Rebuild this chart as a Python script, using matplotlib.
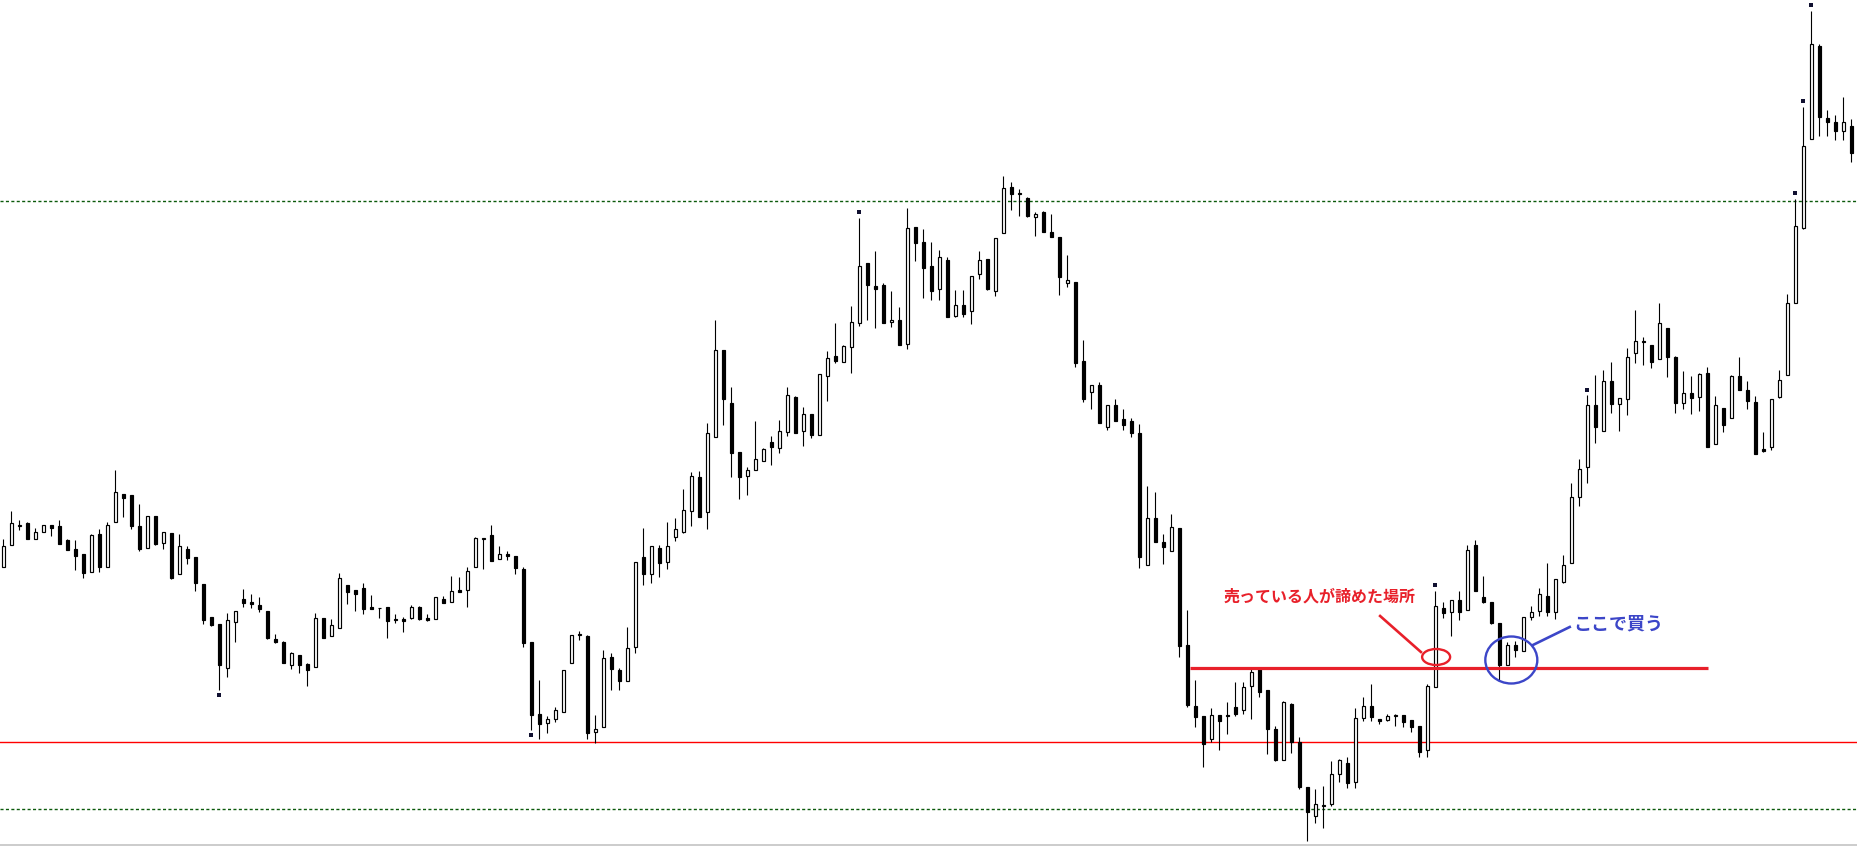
import matplotlib
matplotlib.use("Agg")
import matplotlib.pyplot as plt
from matplotlib.patches import Ellipse
import numpy as np

plt.rcParams['font.family'] = ['Noto Sans CJK JP', 'DejaVu Sans']
plt.rcParams['lines.scale_dashes'] = False

# OHLC per bar (price units)
opens = [289.3, 310.7, 330.3, 333, 316.7, 323.7, 330.7, 329.7, 316, 306.7,
         301.7, 283.7, 322, 288.7, 333.7, 361.7, 360.7, 329.7, 307.7, 339.7,
         312.7, 322.7, 281.7, 306.7, 298.7, 271.7, 238.7, 231.7, 187.7, 233.7,
         257, 254, 250.7, 244.7, 216.7, 214, 190.7, 200.7, 192, 188.7,
         237.7, 219.7, 227.7, 270.7, 265.7, 267.7, 248.7, 248.2, 248.7, 236.9,
         237, 237.7, 248.7, 238, 236.7, 257, 253.7, 265.7, 265.7, 288.7,
         317.3, 320.7, 296.7, 301.7, 299.7, 287, 213.7, 141.7, 132.7, 137.3,
         143.7, 192.7, 222, 219.7, 124.3, 128.7, 198.7, 186, 174.7, 208.7,
         298.7, 282.3, 307.7, 293.7, 318.7, 323.7, 345.3, 378.7, 343.7, 418.7,
         505.7, 452.7, 403.7, 379.7, 385.7, 394.7, 413.7, 407.7, 423.7, 458.7,
         424.7, 441.7, 420.7, 479.7, 499.7, 493.7, 508.7, 532.7, 592.7, 570,
         570.7, 533.7, 535.7, 511.7, 628.7, 613.7, 589.7, 566.7, 596, 539.7,
         550.7, 544.7, 581.7, 596.7, 564.7, 622.7, 668.7, 662.7, 657.7, 638.7,
         643.7, 623.7, 618.7, 572.7, 573.7, 494.7, 463.7, 470.7, 428.7, 450.7,
         436.7, 434.7, 422.7, 290.7, 337.7, 313.7, 304.7, 327.7, 210.7, 150,
         139.7, 117.3, 140.7, 140.7, 148.7, 145.7, 169.7, 186.7, 165.7, 127,
         95.7, 152, 113.7, 69.3, 39.7, 50.3, 51.7, 81.7, 92.7, 73.7,
         137.7, 149.7, 136.7, 136, 140, 140.7, 136, 130, 105.7, 168.7,
         248, 243.7, 256, 245.7, 310.7, 258.7, 254, 232.7, 190.7, 210.7,
         204.7, 238.7, 245.3, 259.7, 243.7, 273.7, 292.7, 358.7, 389.3, 450.7,
         424.7, 475, 451.7, 456.7, 502.7, 515, 510.7, 496.7, 527.7, 498.7,
         452.7, 462.7, 458.7, 482.7, 411.7, 447.7, 437.7, 479.7, 465.7, 453.7,
         407, 408.7, 458.7, 480.7, 552.7, 628.3, 716.7, 809.7, 737.7, 733.7,
         724.7, 729.7]
highs = [317, 345, 336, 334, 327.7, 330.7, 330.7, 336, 317, 316,
         301.7, 322, 327, 334, 386, 361.7, 360.7, 352, 339.7, 339.7,
         323.7, 322.7, 322, 310, 298.7, 271.7, 238.7, 231.7, 242.7, 244.7,
         267, 262, 259, 244.7, 221.7, 214.7, 203.7, 200.7, 192.7, 243,
         237.7, 237, 282.7, 270.7, 265.7, 272.7, 260.7, 248.3, 248.7, 241.7,
         238.7, 250.7, 250.3, 242, 259.3, 259.7, 280, 279, 288.7, 318.7,
         317.7, 331, 309.7, 304.7, 299.7, 288.7, 213.7, 176, 140, 149,
         185.7, 220.7, 225, 220.7, 141, 206, 202.7, 187.7, 229, 293.7,
         328, 309.7, 310.7, 334, 337.7, 367, 384, 385, 432.7, 536,
         505.7, 468.7, 403.7, 388.7, 435, 407.7, 420, 436, 469, 459.7,
         449, 441.7, 481.7, 505, 533, 510.7, 550, 637.7, 592.7, 605,
         572.7, 565, 549, 647.7, 628.7, 627, 614, 606, 598.7, 566,
         566, 579.7, 605, 596.7, 617.7, 680, 673.7, 666.7, 659, 643.7,
         644.7, 642, 618.7, 601, 573.7, 516, 470.7, 474, 450.7, 457,
         447.3, 438, 431.7, 370, 364.3, 321.7, 342, 327.7, 246, 176,
         139.7, 148, 140.7, 154, 174, 174, 186.7, 186.7, 165.7, 130,
         155.3, 153, 119, 69.3, 67, 70, 95, 96.7, 99, 147.7,
         159, 172, 137.3, 142, 142, 140.7, 136, 130, 172, 265,
         253.7, 256, 265, 310.7, 315.7, 279.7, 254, 232.7, 213.7, 214.7,
         238.7, 249.7, 267.7, 292.7, 276.7, 300.7, 372.7, 396.7, 460.7, 480.7,
         485.7, 494, 457.7, 507.7, 546, 519, 510.7, 553, 527.7, 499.7,
         485, 480, 482.7, 489, 460, 447.7, 480.7, 499, 475, 460,
         424, 456.7, 486, 562, 656.7, 749, 845, 811.7, 745.7, 740.7,
         758.7, 736.7]
lows = [288.7, 310.7, 326, 317.3, 316.7, 323.7, 320.3, 312.3, 306.3, 286.3,
        278.3, 283.7, 284.3, 288.7, 333.7, 339.3, 327, 305.3, 307.7, 311,
        307, 277.3, 281.7, 292.3, 265.3, 232.3, 230.3, 166, 179.3, 214.3,
        249.3, 248.3, 244.3, 216.7, 213.3, 193.3, 187.3, 183.3, 170.3, 188.7,
        218.3, 219.7, 227.7, 252.3, 245.3, 242.3, 247.3, 238.3, 218.3, 233.3,
        224.3, 236.7, 236.3, 235.3, 236.7, 253.3, 253.7, 264.3, 249.3, 288.7,
        287.3, 295.3, 296.7, 296.3, 282.3, 209.3, 126, 117.3, 123.3, 134.3,
        143.7, 192.7, 216, 117.3, 113.3, 128.7, 166.3, 166.3, 174.7, 203.3,
        271.3, 273.3, 279.3, 286.7, 315.3, 322.7, 330.3, 339.3, 326.7, 418.7,
        431.3, 378.7, 357.3, 360.7, 385.7, 394.7, 391.3, 402.7, 419.7, 422.7,
        409.7, 417.7, 420.7, 454.7, 492.7, 493.7, 482.7, 530.3, 536.3, 528.3,
        532.7, 528.7, 511.3, 507.3, 595.3, 558.3, 556.3, 555.7, 538.7, 538.7,
        539.3, 531.7, 577.3, 566.3, 560.3, 622.7, 646.3, 639.7, 638.7, 620.3,
        623.7, 618.7, 561.3, 569.3, 488.7, 453.7, 447.3, 432.7, 425.7, 435.3,
        425.7, 418.7, 287.7, 290.7, 313.7, 292.3, 304.7, 198.7, 149.3, 129.3,
        89.3, 114, 106.3, 122.3, 140, 141.7, 137.3, 159.3, 101.7, 95.3,
        95.7, 103.3, 66.7, 15.3, 32.7, 27.7, 49.7, 74.3, 68.3, 68.3,
        135.3, 135.3, 131.7, 134.7, 130.3, 129.3, 124.3, 98.7, 98.7, 168.7,
        237.7, 220.3, 236.3, 245.7, 264.7, 253.3, 231.7, 176, 190.7, 199.3,
        204.7, 235.7, 239.7, 239.7, 237.3, 272.7, 292.7, 350.3, 373.3, 412.7,
        424.7, 442.7, 425.3, 441.3, 493.3, 491.3, 488.3, 496.7, 479.3, 443.3,
        447.3, 442.3, 445.3, 409.3, 411.7, 424.3, 437.7, 465.7, 447.3, 401.7,
        403.7, 406.3, 457.7, 480.7, 552.7, 627.3, 716.7, 720.3, 720.3, 716.3,
        716.3, 694.3]
closes = [309.7, 332.7, 330.7, 317.3, 323.7, 330.7, 328.3, 312.3, 306.3, 300.3,
          283.3, 320.7, 288.7, 330.7, 363.7, 358.3, 330.3, 307, 339.7, 312.3,
          323.7, 278.3, 309.7, 298.3, 272.7, 236.3, 231.3, 191.3, 235.7, 244.7,
          253.3, 252.3, 247.3, 218.3, 214.3, 193.3, 202.7, 191.3, 186.3, 237.7,
          218.3, 230.7, 277.7, 264.3, 262.3, 247.3, 247.3, 247.8, 235.3, 236.5,
          235.3, 248.7, 237.3, 236, 258.7, 253.3, 264.7, 264.3, 284.7, 317.7,
          317.7, 295.3, 301.7, 299.7, 288.3, 213.3, 141.3, 132.3, 136.7, 145.7,
          185.7, 220.7, 220.7, 123.3, 126.7, 197.7, 187.3, 175.3, 207.7, 293.7,
          282.3, 309.7, 292.7, 309.7, 326.7, 345.7, 379.7, 339.3, 422.7, 505.7,
          456.7, 403.3, 379.3, 385.7, 396.7, 406.7, 408.7, 424.7, 460.7, 423.3,
          441.7, 420.7, 481.7, 497.7, 494.7, 509.7, 533.7, 589.7, 571.3, 566.7,
          533.3, 535.7, 511.3, 627.7, 612.7, 587.7, 564.7, 598.7, 538.7, 550.7,
          541.7, 579.7, 595.7, 567, 617.7, 667.7, 661.7, 661.7, 640.3, 641.7,
          623.7, 618.7, 578.7, 575.7, 492.7, 457.3, 470.7, 432.7, 450.7, 435.3,
          430.7, 422.7, 299.3, 337.7, 313.7, 309.3, 329.3, 210.3, 151, 139.3,
          111.7, 140.7, 135.3, 139.7, 142, 169.3, 183.7, 164.3, 126.7, 96,
          153.7, 114, 69.3, 43.7, 51.7, 50.7, 81.7, 95.7, 73.3, 137.7,
          149.7, 139.3, 134.7, 139.7, 140.7, 134.3, 129.3, 103.7, 169.7, 249.7,
          243.3, 256, 243.7, 305.7, 264.7, 254.3, 233, 190.7, 210.7, 205.7,
          238.7, 243.7, 261.7, 243.7, 276.7, 290.7, 358.7, 386.7, 450.7, 428.7,
          474.7, 451.7, 457.7, 498.7, 514.7, 513.7, 493.7, 532.7, 498.7, 452.7,
          462.7, 457.7, 481.7, 409.3, 450.7, 430.7, 479.7, 465.7, 454.7, 402.3,
          405.3, 456.7, 475.7, 552.7, 629.7, 709.7, 811.7, 739.3, 733.7, 724.7,
          733.7, 703.3]

# fractal dots
dot_bars = [27, 66, 107, 179, 198, 224, 225, 226]
dot_prices = [160.7, 120.7, 643.7, 270.7, 465.7, 662.7, 754.7, 850.7]

# horizontal levels
level_top = 655        # green dotted
level_support = 114    # thin red
level_bottom = 47      # green dotted
level_break = 188      # thick red segment
break_start, break_end = 148.3, 213.1

o = np.array(opens); h = np.array(highs); l = np.array(lows); c = np.array(closes)
x = np.arange(len(o))
up = c >= o

fig = plt.figure(figsize=(18.57, 8.56), dpi=100)
ax = fig.add_axes([0, 0, 1, 1])
ax.set_xlim(-0.4125, 231.71)
ax.set_ylim(0, 856)
ax.axis('off')

dot = (0, (2.2, 1.7))
ax.axhline(level_top, color='#0b5a0b', lw=1, ls=dot, zorder=1)
ax.axhline(level_bottom, color='#0b5a0b', lw=1, ls=dot, zorder=1)
ax.axhline(level_support, color='#ff0000', lw=1, zorder=1)
ax.axhline(11, color='#c4c4c4', lw=1.2, zorder=1)

ax.vlines(x, l, h, color='black', lw=0.8, zorder=2)
body = np.maximum(np.abs(c - o), 0.6)
bottom = np.minimum(o, c)
ax.bar(x[up], body[up], bottom=bottom[up], width=0.45, color='white',
       edgecolor='black', linewidth=0.85, zorder=3)
ax.bar(x[~up], body[~up], bottom=bottom[~up], width=0.45, color='black',
       edgecolor='black', linewidth=0.85, zorder=3)
ax.scatter(dot_bars, dot_prices, marker='s', s=6, color='#101030', zorder=4, linewidths=0)

red = '#e8202a'
blue = '#3c46c8'
ax.plot([break_start, break_end], [level_break, level_break], color=red, lw=2.3,
        solid_capstyle='butt', zorder=5)

ax.add_patch(Ellipse((179.1, 199), 3.5, 16, fill=False, ec=red, lw=1.7, zorder=6))
ax.plot([172.1, 177.2], [240, 204], color=red, lw=1.9, zorder=6)
ax.text(152.5, 259, '売っている人が諦めた場所', color=red, fontsize=11.5,
        fontweight='bold', ha='left', va='center', zorder=6)

ax.add_patch(Ellipse((188.5, 196), 6.5, 47, fill=False, ec=blue, lw=1.7, zorder=6))
ax.plot([191.2, 195.8], [211, 229], color=blue, lw=1.9, zorder=6)
ax.text(196.2, 232, 'ここで買う', color=blue, fontsize=13,
        fontweight='bold', ha='left', va='center', zorder=6)

fig.savefig('out.png', dpi=100)
